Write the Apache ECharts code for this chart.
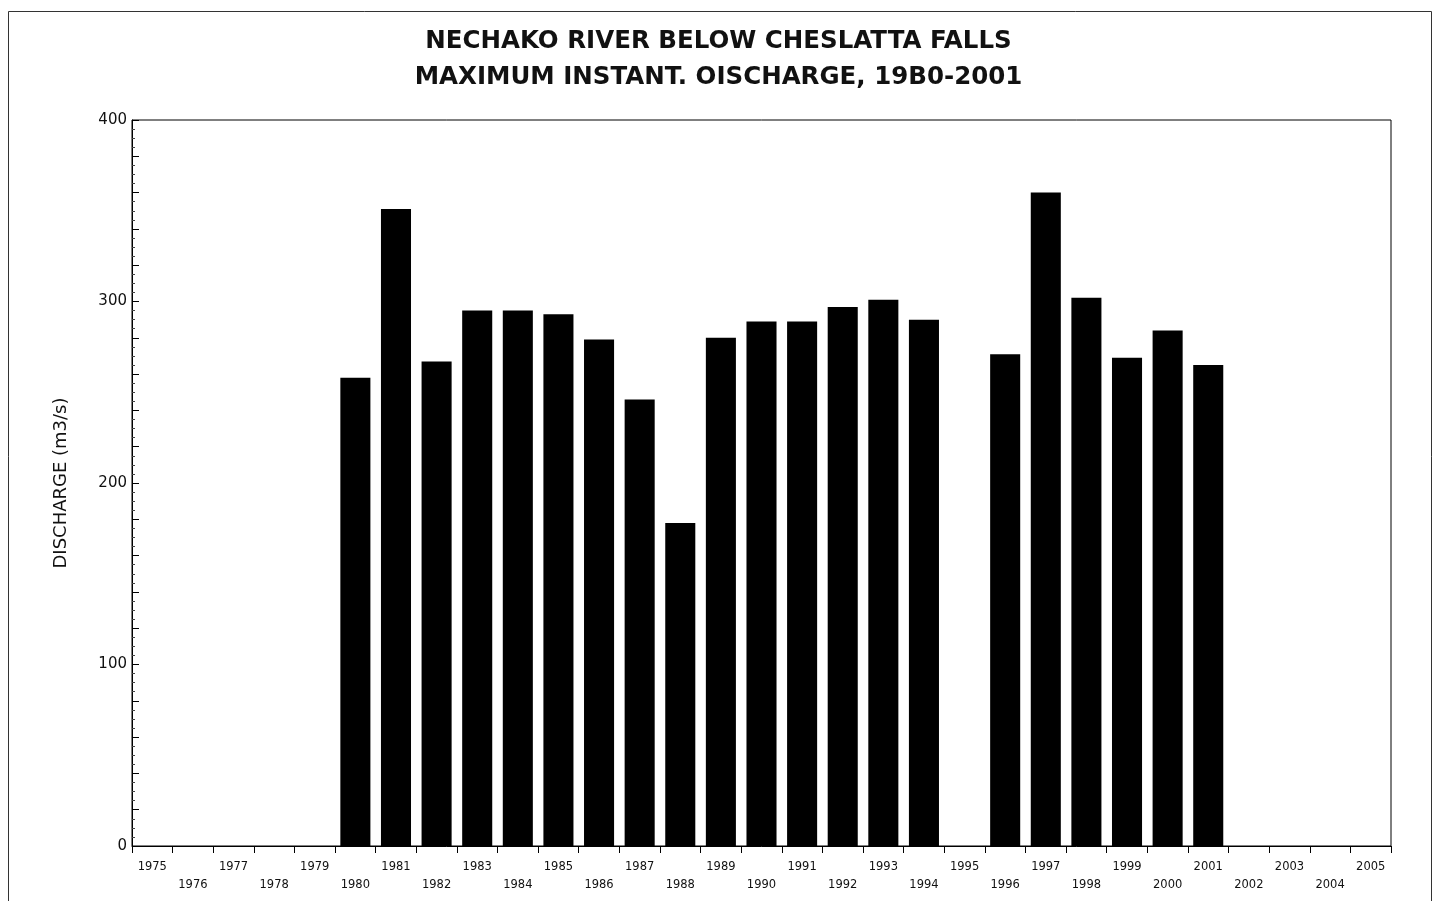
<!DOCTYPE html>
<html>
<head>
<meta charset="utf-8">
<title>Nechako River below Cheslatta Falls</title>
<script src="https://cdn.jsdelivr.net/npm/echarts@6/dist/echarts.min.js"></script>
<style>
  html, body { margin: 0; padding: 0; background: #fff; }
  #chart { width: 1437px; height: 901px; }
</style>
</head>
<body>
<div id="chart"></div>
<script>
// Water years shown on the category axis
const years = [
  '1975','1976','1977','1978','1979','1980','1981','1982','1983','1984',
  '1985','1986','1987','1988','1989','1990','1991','1992','1993','1994',
  '1995','1996','1997','1998','1999','2000','2001','2002','2003','2004','2005'
];

// Maximum instantaneous discharge (m3/s); null where no record exists
const maxDischarge = [
  null, null, null, null, null, 258, 351, 267, 295, 295,
  293, 279, 246, 178, 280, 289, 289, 297, 301, 290,
  null, 271, 360, 302, 269, 284, 265, null, null, null, null
];

const titleLines = [
  'NECHAKO RIVER BELOW CHESLATTA FALLS',
  'MAXIMUM INSTANT. OISCHARGE, 19B0-2001'
];
const yAxisTitle = 'DISCHARGE (m3/s)';

const chart = echarts.init(document.getElementById('chart'), null, { renderer: 'canvas' });

chart.setOption({
  animation: false,
  backgroundColor: '#fff',
  title: {
    text: titleLines.join('\n'),
    left: 'center',
    top: 19,
    textStyle: {
      fontFamily: 'DejaVu Sans',
      fontWeight: 'bold',
      fontSize: 24.5,
      lineHeight: 36,
      color: '#111'
    }
  },
  graphic: [{
    type: 'rect',
    left: 6,
    top: 9,
    shape: { width: 1423, height: 900 },
    style: { fill: 'none', stroke: '#333', lineWidth: 1 },
    silent: true
  }],
  grid: {
    left: 132,
    right: 46,
    top: 120,
    bottom: 55,
    show: true,
    borderColor: '#000',
    borderWidth: 1,
    backgroundColor: 'transparent'
  },
  xAxis: {
    type: 'category',
    data: years,
    axisLine: { lineStyle: { color: '#000', width: 1 } },
    axisTick: { show: true, length: 7, inside: false, lineStyle: { color: '#000' } },
    axisLabel: {
      interval: 0,
      margin: 15,
      formatter: (value, index) => (index % 2 === 0 ? '{top|' + value + '}' : '{low|' + value + '}'),
      rich: {
        top: {
          fontFamily: 'DejaVu Sans',
          fontSize: 11.5,
          color: '#111'
        },
        low: {
          fontFamily: 'DejaVu Sans',
          fontSize: 11.5,
          color: '#111',
          padding: [18, 0, 0, 0]
        }
      }
    },
    splitLine: { show: false }
  },
  yAxis: {
    type: 'value',
    min: 0,
    max: 400,
    interval: 20,
    name: yAxisTitle,
    nameLocation: 'middle',
    nameGap: 62,
    nameRotate: 90,
    nameTextStyle: {
      fontFamily: 'DejaVu Sans',
      fontSize: 18,
      color: '#111'
    },
    axisLine: { show: true, lineStyle: { color: '#000', width: 1 } },
    axisTick: { show: true, inside: true, length: 7, lineStyle: { color: '#000' } },
    minorTick: { show: true, splitNumber: 4, length: 3, lineStyle: { color: '#444' } },
    axisLabel: {
      fontFamily: 'DejaVu Sans',
      fontSize: 15,
      color: '#111',
      margin: 5,
      formatter: (v) => (v % 100 === 0 ? String(v) : '')
    },
    splitLine: { show: false }
  },
  series: [{
    name: 'Maximum instantaneous discharge',
    type: 'bar',
    data: maxDischarge,
    barCategoryGap: '26%',
    itemStyle: { color: '#000' }
  }]
});
</script>
</body>
</html>
